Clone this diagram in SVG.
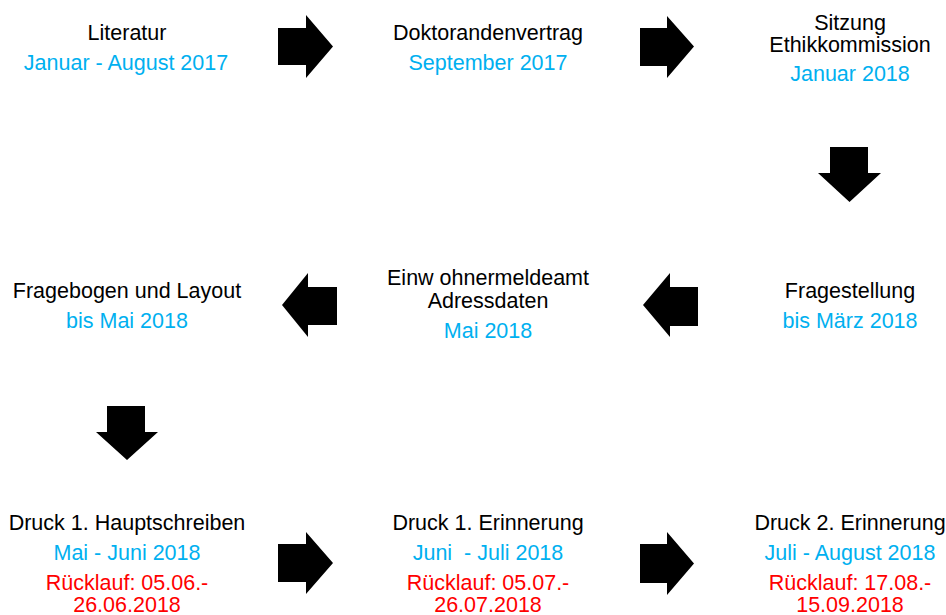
<svg xmlns="http://www.w3.org/2000/svg" width="946" height="615" viewBox="0 0 946 615">
<style>
text{font-family:"Liberation Sans",Arial,sans-serif;font-size:21.5px;text-anchor:middle}
.k{fill:#000}
.b{fill:#00B0F0}
.r{fill:#FF0000}
.arr{fill:#000}
</style>
<rect width="946" height="615" fill="#fff"/>
<g id="connectors">
<polygon class="arr" points="278,28 306,28 306,15 333,46.5 306,78 306,65 278,65"/>
<polygon class="arr" points="640,28 667,28 667,16 694,46.5 667,78 667,66 640,66"/>
<polygon class="arr" points="830,147 868,147 868,173 881,173 849.5,202 818,173 830,173"/>
<polygon class="arr" points="698,287 670,287 670,273 643,305 670,337 670,326 698,326"/>
<polygon class="arr" points="337,287 308,287 308,273 282,305 308,337 308,325 337,325"/>
<polygon class="arr" points="107,406 145,406 145,432 158,432 127,460 96,432 107,432"/>
<polygon class="arr" points="278,544 306,544 306,532 333,563 306,594 306,582 278,582"/>
<polygon class="arr" points="640,544 667,544 667,532 694,563.5 667,595 667,583 640,583"/>
</g>
<g id="literatur">
<text class="k" x="127" y="40">Literatur</text>
<text class="b" x="126" y="70">Januar - August 2017</text>
</g>
<g id="doktorandenvertrag">
<text class="k" x="488" y="40">Doktorandenvertrag</text>
<text class="b" x="488" y="70">September 2017</text>
</g>
<g id="ethikkommission">
<text class="k" x="850" y="30">Sitzung</text>
<text class="k" x="850" y="52">Ethikkommission</text>
<text class="b" x="850" y="81">Januar 2018</text>
</g>
<g id="fragestellung">
<text class="k" x="850" y="298">Fragestellung</text>
<text class="b" x="850" y="328">bis März 2018</text>
</g>
<g id="einwohnermeldeamt">
<text class="k" x="488" y="285">Einw ohnermeldeamt</text>
<text class="k" x="488" y="308">Adressdaten</text>
<text class="b" x="488" y="338">Mai 2018</text>
</g>
<g id="fragebogen">
<text class="k" x="127" y="298">Fragebogen und Layout</text>
<text class="b" x="127" y="328">bis Mai 2018</text>
</g>
<g id="druck-hauptschreiben">
<text class="k" x="127" y="530">Druck 1. Hauptschreiben</text>
<text class="b" x="127" y="560">Mai - Juni 2018</text>
<text class="r" x="127" y="590">Rücklauf: 05.06.-</text>
<text class="r" x="127" y="612">26.06.2018</text>
</g>
<g id="druck-erinnerung-1">
<text class="k" x="488" y="530">Druck 1. Erinnerung</text>
<text class="b" x="488" y="560" xml:space="preserve">Juni  - Juli 2018</text>
<text class="r" x="488" y="590">Rücklauf: 05.07.-</text>
<text class="r" x="488" y="612">26.07.2018</text>
</g>
<g id="druck-erinnerung-2">
<text class="k" x="850" y="530">Druck 2. Erinnerung</text>
<text class="b" x="850" y="560">Juli - August 2018</text>
<text class="r" x="850" y="590">Rücklauf: 17.08.-</text>
<text class="r" x="850" y="612">15.09.2018</text>
</g>
</svg>
